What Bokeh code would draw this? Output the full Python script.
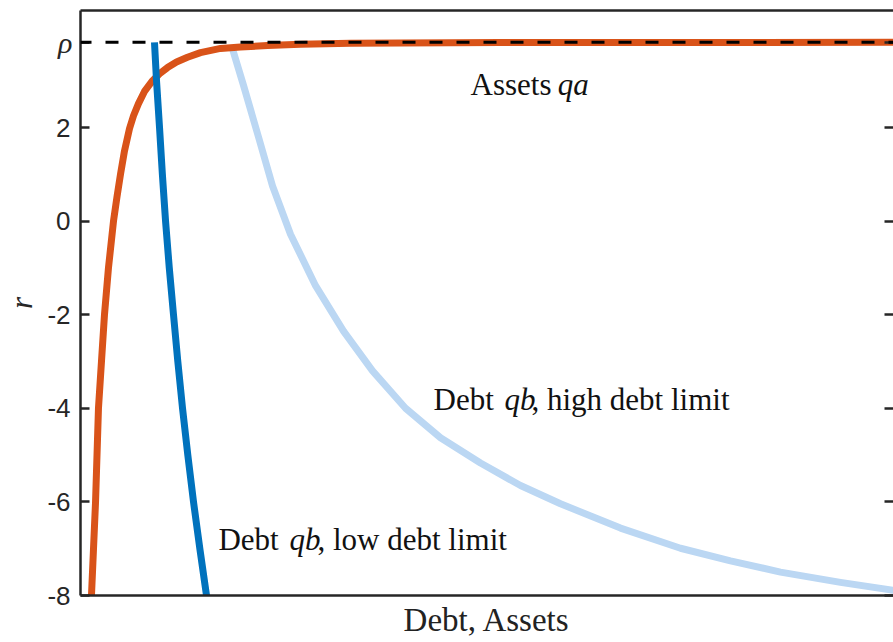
from bokeh.plotting import figure
from bokeh.models import Range1d, FixedTicker, LinearAxis, Span, ColumnDataSource
from bokeh.core.properties import value
from bokeh.embed import file_html
from bokeh.resources import INLINE

# ---------------- data ----------------
rho = 3.82
y_ticks = [-8, -6, -4, -2, 0, 2]
y_tick_labels = ["-8", "-6", "-4", "-2", "0", "2"]

# Assets qa (orange)
assets_x = [0.135, 0.160, 0.185, 0.203, 0.221, 0.258, 0.295, 0.344, 0.406, 0.449, 0.492, 0.541, 0.603,
            0.652, 0.713, 0.787, 0.886, 0.972, 1.070, 1.181, 1.316, 1.476, 1.722, 1.968, 2.300,
            2.706, 3.321, 5.166, 10.0]
assets_r = [-8.0, -7.0, -6.0, -5.0, -4.0, -3.0, -2.0, -1.0, 0.0, 0.52, 1.0, 1.5, 1.98,
            2.25, 2.51, 2.77, 3.0, 3.15, 3.28, 3.40, 3.5, 3.6, 3.69, 3.72, 3.75,
            3.78, 3.80, 3.815, 3.82]

# Debt qb, low debt limit (dark blue)
low_x = [0.910, 0.935, 0.972, 1.007, 1.046, 1.092, 1.144, 1.197, 1.255, 1.320, 1.390, 1.468, 1.550]
low_r = [3.82, 3.0, 2.0, 1.0, 0.0, -1.0, -2.0, -3.0, -4.0, -5.0, -6.0, -7.0, -8.0]

# Debt qb, high debt limit (light blue)
high_x = [1.857, 2.005, 2.189, 2.362, 2.583, 2.891, 3.235, 3.592, 3.998, 4.428, 4.920,
          5.412, 5.904, 6.642, 7.380, 7.995, 8.610, 9.348, 10.0]
high_r = [3.75, 2.9, 1.8, 0.75, -0.28, -1.38, -2.35, -3.2, -4.0, -4.63, -5.17,
          -5.65, -6.04, -6.56, -6.99, -7.26, -7.50, -7.72, -7.89]

# annotation texts (normal / italic pieces)
note_normal_text = ["Assets", "Debt", ", low debt limit", "Debt", ", high debt limit"]
note_normal_x = [4.797, 1.697, 2.915, 4.342, 5.547]
note_normal_y = [2.926, -6.796, -6.796, -3.804, -3.804]
note_italic_text = ["qa", "qb", "qb"]
note_italic_x = [5.870, 2.571, 5.215]
note_italic_y = [2.926, -6.796, -3.804]

AX = "#262626"
ORANGE = "#D95319"
BLUE = "#0072BD"
LIGHT = "#BBD7F3"

p = figure(width=893, height=642, output_backend="svg", toolbar_location=None,
           x_range=Range1d(0, 10), y_range=Range1d(-8, 4.5),
           min_border_left=80, min_border_right=0, min_border_top=10, min_border_bottom=47)
p.outline_line_color = None
p.grid.visible = False
p.background_fill_color = "white"
p.border_fill_color = "white"

all_ticks = [float(t) for t in y_ticks] + [rho]

# inner left axis: spine, inward ticks, rho label
ya = p.yaxis[0]
ya.ticker = FixedTicker(ticks=all_ticks)
inner_ov = {float(t): "" for t in y_ticks}
inner_ov[rho] = "ρ"
ya.major_label_overrides = inner_ov
ya.major_tick_in = 9
ya.major_tick_out = 0
ya.minor_tick_line_color = None
ya.major_tick_line_width = 2.5
ya.major_tick_line_color = AX
ya.axis_line_width = 2.5
ya.axis_line_color = AX
ya.major_label_standoff = 8
ya.major_label_text_font = "Liberation Serif"
ya.major_label_text_font_style = "italic"
ya.major_label_text_font_size = "30px"
ya.major_label_text_color = AX

# outer left axis: numeric labels and the r label
outer_ov = {float(t): l for t, l in zip(y_ticks, y_tick_labels)}
outer_ov[rho] = ""
ya2 = LinearAxis(ticker=FixedTicker(ticks=all_ticks), major_label_overrides=outer_ov,
                 axis_line_color=None, major_tick_line_color=None, minor_tick_line_color=None,
                 major_tick_in=0, major_tick_out=0, major_label_standoff=-15,
                 major_label_text_font="Liberation Sans", major_label_text_font_size="26px",
                 major_label_text_color=AX,
                 axis_label="r", axis_label_text_font="Liberation Serif",
                 axis_label_text_font_style="italic", axis_label_text_font_size="31px",
                 axis_label_text_color=AX, axis_label_standoff=5)
p.add_layout(ya2, "left")

# bottom axis
xa = p.xaxis[0]
xa.ticker = FixedTicker(ticks=[])
xa.axis_line_width = 2.5
xa.axis_line_color = AX
xa.major_label_standoff = 0
xa.major_tick_out = 0
xa.major_tick_in = 0
xa.minor_tick_line_color = None
xa.axis_label = "Debt, Assets"
xa.axis_label_text_font = "Liberation Serif"
xa.axis_label_text_font_style = "normal"
xa.axis_label_text_font_size = "33px"
xa.axis_label_text_color = "#222222"
xa.axis_label_standoff = 6

# top axis (line only)
top = LinearAxis(ticker=FixedTicker(ticks=[]), axis_line_width=2.5, axis_line_color=AX,
                 major_tick_out=0, major_tick_in=0, minor_tick_line_color=None,
                 major_label_standoff=0, major_label_text_font_size="0px")
p.add_layout(top, "above")

# right axis (ticks only)
rov = {float(t): "" for t in y_ticks}
rov[rho] = ""
right = LinearAxis(ticker=FixedTicker(ticks=all_ticks), axis_line_color=None,
                   major_tick_in=9, major_tick_out=0, major_tick_line_width=2.5,
                   major_tick_line_color=AX, minor_tick_line_color=None,
                   major_label_standoff=0, major_label_text_font_size="0px",
                   major_label_overrides=rov)
p.add_layout(right, "right")

# curves
p.line(high_x, high_r, line_color=LIGHT, line_width=7, line_join="round")
p.line(assets_x, assets_r, line_color=ORANGE, line_width=7, line_join="round")
p.line(low_x, low_r, line_color=BLUE, line_width=7, line_join="round")

# rho reference line
p.add_layout(Span(location=rho, dimension="width", line_color="black", line_width=3,
                  line_dash="13 14", line_dash_offset=2))

# annotations
src_n = ColumnDataSource(dict(x=note_normal_x, y=note_normal_y, t=note_normal_text))
src_i = ColumnDataSource(dict(x=note_italic_x, y=note_italic_y, t=note_italic_text))
p.text(x="x", y="y", text="t", source=src_n, text_font=value("Liberation Serif"),
       text_font_size="31px", text_color="#111111", text_baseline="alphabetic", text_align="left")
p.text(x="x", y="y", text="t", source=src_i, text_font=value("Liberation Serif"),
       text_font_style="italic", text_font_size="31px", text_color="#111111",
       text_baseline="alphabetic", text_align="left")

open("out.html", "w").write(file_html(p, INLINE))
